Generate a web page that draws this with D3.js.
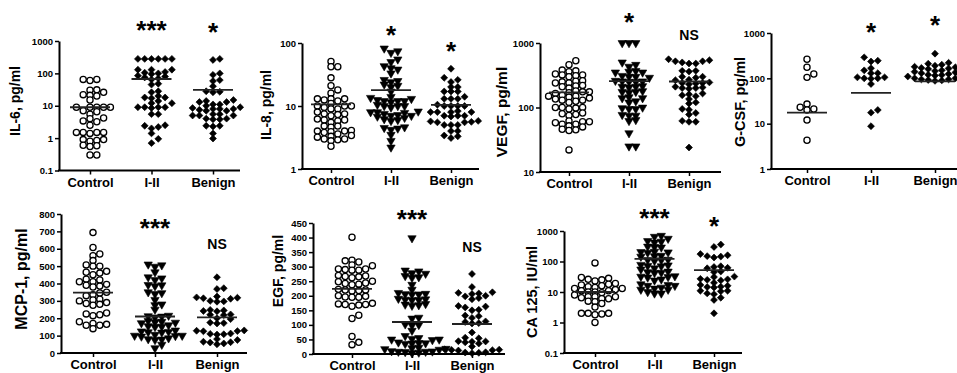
<!DOCTYPE html>
<html>
<head>
<meta charset="utf-8">
<script src="https://cdnjs.cloudflare.com/ajax/libs/d3/7.8.5/d3.min.js"></script>
<style>
  body { margin: 0; background: #fff; }
  svg { font-family: "Liberation Sans", Arial, sans-serif; font-weight: bold; }
</style>
</head>
<body>
<div id="chart"></div>
<script>
// categories
const categories = ["Control", "I-II", "Benign"];

// IL-6, pg/ml
const il6Control = [65, 60, 65, 31, 30, 26, 22, 21, 20, 15, 9, 9, 9, 9, 9, 7, 6.5, 5.5, 4.2, 4, 3.4, 3.2, 2.5, 1.5, 1.5, 1.5, 1.5, 1.4, 0.9, 0.9, 0.85, 0.8, 0.6, 0.58, 0.55, 0.3, 0.3];
const il6Stage = [280, 280, 280, 280, 280, 280, 130, 130, 130, 110, 105, 100, 95, 85, 80, 75, 70, 65, 48, 45, 28, 26, 20, 18, 18, 17, 14, 12, 12, 9, 9, 9, 9, 8.5, 5.5, 5.5, 2.5, 2.4, 2.2, 2.0, 1.4, 0.95, 0.7];
const il6Benign = [280, 260, 100, 90, 62, 58, 40, 28, 27, 26, 15, 14, 13, 13, 11, 11, 10, 9, 8.5, 8, 8, 8, 7.5, 7, 7, 5.5, 5.5, 5, 5, 5, 4, 4, 3.8, 3.8, 2.4, 2.4, 2.3, 1.4, 0.97];
const il6Means = [9, 67, 31];
const il6Marks = ["", "***", "*"];

// IL-8, pg/ml
const il8Control = [51, 42, 42, 28, 21, 18, 16, 13, 13, 13, 12.5, 12, 11, 10, 10, 10, 9.5, 9, 9, 8, 7.5, 7.5, 7.3, 7, 6.2, 6, 6, 5.8, 5.5, 4.8, 4.8, 4.6, 4.1, 4, 4, 3.9, 3.8, 3.6, 3.4, 3.3, 3.2, 3, 3, 2.9, 2.8, 2.3];
const il8Stage = [82, 74, 70, 55, 50, 43, 40, 38, 33, 26, 25, 24, 22, 21, 20, 17, 14, 13.5, 13, 12.5, 12, 12, 12, 11.5, 10.5, 10, 10, 10, 9.5, 8.2, 8, 8, 7.8, 7.5, 7.2, 7, 7, 6.8, 6.5, 6.2, 6, 5.8, 4.6, 4.5, 4.4, 4.2, 3.5, 2.8, 2.2];
const il8Benign = [39, 28, 26, 24, 20, 20, 17, 17, 17, 14, 13, 13, 13, 10.5, 10, 10, 10, 10, 8.3, 8, 8, 8, 8, 7, 7, 7, 6.8, 5.8, 5.7, 5.6, 5.5, 5.5, 5, 5, 5, 4, 4, 3.4, 3.3, 3.1];
const il8Means = [10.6, 17.9, 10.4];
const il8Marks = ["", "*", "*"];

// VEGF, pg/ml
const vegfControl = [530, 460, 380, 370, 360, 330, 320, 320, 310, 300, 260, 255, 250, 240, 240, 220, 215, 210, 200, 180, 175, 175, 170, 165, 155, 150, 150, 145, 140, 135, 130, 130, 125, 120, 100, 100, 100, 98, 95, 82, 80, 78, 75, 62, 60, 60, 58, 55, 55, 52, 50, 46, 45, 44, 22];
const vegfStage = [1000, 1000, 1000, 500, 460, 430, 370, 360, 350, 350, 310, 300, 300, 290, 260, 255, 255, 250, 250, 215, 210, 210, 205, 180, 175, 175, 170, 145, 140, 140, 125, 120, 100, 98, 95, 95, 77, 75, 75, 64, 62, 40, 25, 25];
const vegfBenign = [560, 540, 520, 520, 500, 480, 480, 370, 370, 360, 300, 300, 290, 270, 265, 245, 240, 240, 235, 230, 210, 205, 200, 200, 195, 165, 160, 155, 150, 135, 120, 115, 95, 92, 82, 78, 62, 60, 60, 24];
const vegfMeans = [172, 256, 253];
const vegfMarks = ["", "*", "NS"];

// G-CSF, pg/ml
const gcsfControl = [264, 176, 125, 105, 27, 23, 21, 20, 12, 4.3];
const gcsfStage = [290, 245, 235, 167, 150, 130, 130, 105, 105, 100, 100, 98, 75, 20, 17.5, 8.8];
const gcsfBenign = [350, 220, 210, 200, 190, 180, 175, 170, 165, 160, 150, 145, 140, 135, 130, 125, 120, 118, 115, 110, 105, 100, 100, 95, 95, 92, 90, 88];
const gcsfMeans = [17.5, 48, 86];
const gcsfMarks = ["", "*", "*"];

// MCP-1, pg/ml
const mcpControl = [693, 607, 570, 560, 532, 507, 500, 500, 470, 465, 460, 450, 425, 420, 410, 410, 395, 390, 385, 380, 350, 345, 335, 330, 310, 305, 300, 290, 285, 280, 275, 230, 225, 220, 215, 180, 170, 165, 160, 160, 140];
const mcpStage = [510, 505, 497, 465, 436, 430, 420, 392, 390, 385, 350, 345, 340, 306, 280, 276, 250, 215, 212, 210, 205, 185, 180, 178, 175, 172, 160, 155, 152, 150, 130, 125, 122, 120, 118, 105, 100, 100, 98, 95, 85, 80, 78, 75, 48, 28];
const mcpBenign = [436, 373, 368, 325, 320, 318, 315, 312, 300, 297, 295, 248, 245, 242, 240, 222, 220, 218, 200, 195, 175, 172, 170, 130, 128, 126, 125, 112, 110, 108, 106, 80, 75, 65, 62, 60, 55, 50];
const mcpMeans = [348, 210, 205];
const mcpMarks = ["", "***", "NS"];

// EGF, pg/ml
const egfControl = [401, 322, 320, 316, 306, 303, 292, 292, 290, 288, 288, 270, 268, 266, 265, 262, 250, 248, 244, 242, 240, 238, 222, 220, 220, 218, 216, 200, 198, 196, 195, 195, 174, 172, 170, 170, 168, 164, 133, 122, 60, 40, 32];
const egfStage = [398, 287, 284, 278, 276, 268, 264, 262, 238, 221, 210, 207, 206, 205, 204, 190, 188, 187, 186, 185, 172, 170, 168, 166, 125, 122, 102, 100, 98, 80, 62, 55, 52, 50, 50, 48, 40, 38, 37, 36, 35, 22, 20, 18, 17, 15, 10, 9, 8, 8, 7, 5, 3];
const egfBenign = [275, 230, 212, 210, 208, 206, 200, 198, 192, 188, 165, 163, 160, 152, 150, 132, 130, 124, 112, 110, 106, 105, 74, 56, 54, 44, 43, 42, 40, 36, 26, 16, 15, 14, 13, 12, 6, 5, 4, 3];
const egfMeans = [224, 110, 103];
const egfMarks = ["", "***", "NS"];

// CA 125, IU/ml
const caControl = [90, 30, 28, 26, 25, 23, 19, 18, 17, 16, 15, 14, 13, 13, 12, 11, 11, 10, 10, 9.5, 8, 7, 7, 7, 6.5, 6, 6, 5, 4.8, 4.2, 3.2, 2, 2, 2, 1.9, 1.8, 1.0];
const caStage = [700, 650, 560, 470, 450, 420, 310, 300, 290, 210, 205, 200, 195, 155, 150, 145, 115, 112, 110, 105, 78, 75, 72, 70, 60, 55, 47, 45, 43, 42, 33, 32, 31, 30, 26, 24, 18, 17, 16, 16, 14, 13, 12, 12, 10, 9, 9];
const caBenign = [360, 300, 175, 160, 150, 145, 135, 70, 66, 62, 60, 47, 45, 32, 31, 27, 26, 25, 24, 20, 17, 16, 15, 14.5, 14, 11, 11, 10.5, 9, 8.5, 6.5, 5.5, 2.0];
const caMeans = [10, 122, 52];
const caMarks = ["", "***", "*"];

const logTicks3 = [0.1, 1, 10, 100, 1000];

// panel layout
const panels = [
  { label: "IL-6, pg/ml", groups: [il6Control, il6Stage, il6Benign], means: il6Means, marks: il6Marks,
    symbols: ["circle", "diamond", "diamond"], log: true, domain: [0.1, 1000], ticks: logTicks3,
    x0: 59, x1: 240, c0: 90, c2: 213, yTop: 41, yBot: 170.5, lx: 15, ly: 101, ls: 14, markY: [0, 24, 26] },
  { label: "IL-8, pg/ml", groups: [il8Control, il8Stage, il8Benign], means: il8Means, marks: il8Marks,
    symbols: ["circle", "triangle", "diamond"], log: true, domain: [1, 100], ticks: [1, 10, 100],
    x0: 302, x1: 479, c0: 331, c2: 451, yTop: 43, yBot: 169, lx: 266, ly: 105, ls: 14, markY: [0, 29, 45] },
  { label: "VEGF, pg/ml", groups: [vegfControl, vegfStage, vegfBenign], means: vegfMeans, marks: vegfMarks,
    symbols: ["circle", "triangle", "diamond"], log: true, domain: [10, 1000], ticks: [10, 100, 1000],
    x0: 540, x1: 721, c0: 569, c2: 689, yTop: 43, yBot: 172, lx: 501, ly: 112, ls: 15.5, markY: [0, 16, 35] },
  { label: "G-CSF, pg/ml", groups: [gcsfControl, gcsfStage, gcsfBenign], means: gcsfMeans, marks: gcsfMarks,
    symbols: ["circle", "diamond", "diamond"], log: true, domain: [1, 1000], ticks: [1, 10, 100, 1000],
    x0: 771, x1: 957, c0: 807, c2: 935, yTop: 33, yBot: 169, lx: 740, ly: 102, ls: 14.5, markY: [0, 26, 19] },
  { label: "MCP-1, pg/ml", groups: [mcpControl, mcpStage, mcpBenign], means: mcpMeans, marks: mcpMarks,
    symbols: ["circle", "triangle", "diamond"], log: false, domain: [0, 800], ticks: d3.range(0, 801, 100),
    x0: 61, x1: 247, c0: 93, c2: 217, yTop: 214, yBot: 353, lx: 21, ly: 279, ls: 16, markY: [0, 222, 244] },
  { label: "EGF, pg/ml", groups: [egfControl, egfStage, egfBenign], means: egfMeans, marks: egfMarks,
    symbols: ["circle", "triangle", "diamond"], log: false, domain: [0, 450], ticks: d3.range(0, 451, 50),
    x0: 313, x1: 505, c0: 352, c2: 472, yTop: 223, yBot: 354, lx: 278, ly: 271, ls: 14, markY: [0, 213, 247] },
  { label: "CA 125, IU/ml", groups: [caControl, caStage, caBenign], means: caMeans, marks: caMarks,
    symbols: ["circle", "triangle", "diamond"], log: true, domain: [0.1, 1000], ticks: logTicks3,
    x0: 564, x1: 742, c0: 595, c2: 714, yTop: 231, yBot: 353, lx: 532, ly: 292, ls: 14.5, markY: [0, 212, 220] }
];

const svg = d3.select("#chart").append("svg")
  .attr("width", 957)
  .attr("height", 373);

// spread points horizontally, row-like (column scatter)
function swarm(ys, dx, hy) {
  const order = ys.map((y, i) => i).sort((a, b) => ys[b] - ys[a]);
  const placed = [];
  const xs = new Array(ys.length).fill(0);
  order.forEach(i => {
    const y = ys[i];
    const blocked = placed.filter(p => Math.abs(p.y - y) < hy).map(p => [p.x - dx, p.x + dx]);
    const cands = [0];
    blocked.forEach(b => cands.push(b[0], b[1]));
    cands.sort((a, b) => Math.abs(a) - Math.abs(b) || b - a);
    const free = cands.find(c => blocked.every(b => c <= b[0] + 1e-6 || c >= b[1] - 1e-6));
    xs[i] = free;
    placed.push({ x: free, y });
  });
  return xs;
}

const symbolPath = {
  circle: d3.symbol().type(d3.symbolCircle).size(30)(),
  diamond: d3.symbol().type(d3.symbolSquare).size(24)(),
  triangle: d3.symbol().type(d3.symbolTriangle).size(30)()
};

function drawPanel(p) {
  const g = svg.append("g");
  const y = (p.log ? d3.scaleLog() : d3.scaleLinear()).domain(p.domain).range([p.yBot, p.yTop]);
  const x = d3.scalePoint().domain(categories).range([p.c0, p.c2]);

  // y axis
  const yAxis = g.append("g")
    .attr("transform", `translate(${p.x0},0)`)
    .call(d3.axisLeft(y).tickValues(p.ticks).tickFormat(d3.format("~g")).tickSize(4).tickSizeOuter(0).tickPadding(2));
  yAxis.select(".domain").attr("stroke-width", 2);
  yAxis.selectAll(".tick line").attr("stroke-width", 1.5);
  yAxis.selectAll(".tick text").attr("font-size", 9.5).attr("font-weight", "bold").attr("fill", "#000")
    .attr("font-family", "Liberation Sans, Arial, sans-serif");

  // x axis
  const xAxis = g.append("g")
    .attr("transform", `translate(0,${p.yBot})`)
    .call(d3.axisBottom(x).tickSize(4).tickSizeOuter(0).tickPadding(3));
  xAxis.select(".domain").attr("d", `M${p.x0 - 1},0H${p.x1}`).attr("stroke-width", 2);
  xAxis.selectAll(".tick line").attr("stroke-width", 1.5);
  xAxis.selectAll(".tick text").attr("font-size", 13).attr("font-weight", "bold").attr("fill", "#000")
    .attr("font-family", "Liberation Sans, Arial, sans-serif");

  // y label
  g.append("text")
    .attr("transform", `translate(${p.lx},${p.ly}) rotate(-90)`)
    .attr("text-anchor", "middle")
    .attr("dominant-baseline", "central")
    .attr("font-size", p.ls)
    .text(p.label);

  // points
  p.groups.forEach((vals, i) => {
    const ys = vals.map(v => y(v));
    const xs = swarm(ys, 6.8, 4.4);
    const cx = x(categories[i]);
    const sym = p.symbols[i];
    g.append("g").selectAll("path")
      .data(vals)
      .join("path")
      .attr("d", symbolPath[sym])
      .attr("transform", (v, j) => {
        const rot = sym === "diamond" ? " rotate(45)" : sym === "triangle" ? " rotate(180)" : "";
        return `translate(${cx + xs[j]},${ys[j]})${rot}`;
      })
      .attr("fill", sym === "circle" ? "#fff" : "#000")
      .attr("stroke", "#000")
      .attr("stroke-width", sym === "circle" ? 1.3 : 0.6);

    // mean line
    g.append("line")
      .attr("x1", cx - 20).attr("x2", cx + 20)
      .attr("y1", y(p.means[i])).attr("y2", y(p.means[i]))
      .attr("stroke", "#222")
      .attr("stroke-width", 1.8);

    // significance mark
    const m = p.marks[i];
    if (m) {
      g.append("text")
        .attr("x", cx)
        .attr("y", p.markY[i] + (m === "NS" ? 5 : 15))
        .attr("text-anchor", "middle")
        .attr("font-size", m === "NS" ? 14 : 26)
        .text(m);
    }
  });
}

panels.forEach(drawPanel);
</script>
</body>
</html>
